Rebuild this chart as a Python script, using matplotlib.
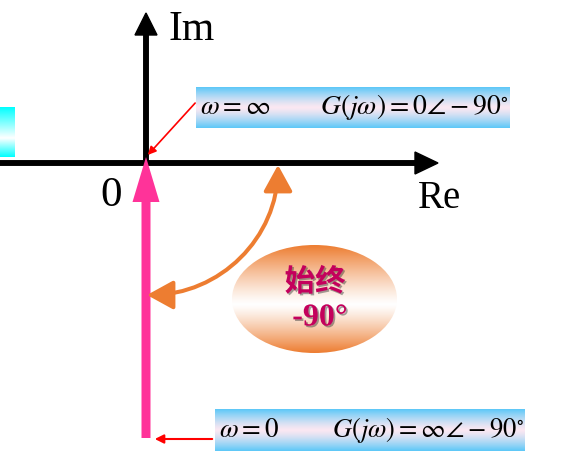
import numpy as np
import matplotlib
matplotlib.use("Agg")
import matplotlib.pyplot as plt
from matplotlib.path import Path
import matplotlib.patches as patches
import matplotlib.patheffects as pe

plt.rcParams['mathtext.fontset'] = 'stix'

# text content
axis_labels = ["Im", "Re", "0"]
top_labels = [r"$\omega=\infty$", r"$G(j\omega)=0\angle-90^{\circ}$"]
bottom_labels = [r"$\omega=0$", r"$G(j\omega)=\infty\angle-90^{\circ}$"]
badge_lines = ["始终", "-90°"]

# layout in pixel units (y grows downward)
W, H = 570, 469
origin = (146, 163)
arc_radius = 132


def gradient(ax, extent, c_edge, c_mid, mid=0.5, clip=None, power=1.0):
    x0, x1, y0, y1 = extent
    t = np.linspace(0, 1, 200)
    d = np.where(t < mid, (mid - t) / mid, (t - mid) / (1 - mid)) ** power
    c_edge = np.array(matplotlib.colors.to_rgb(c_edge))
    c_mid = np.array(matplotlib.colors.to_rgb(c_mid))
    img = (c_mid[None, :] * (1 - d[:, None]) + c_edge[None, :] * d[:, None])[:, None, :]
    im = ax.imshow(img, extent=(x0, x1, y1, y0), origin='upper', aspect='auto',
                   interpolation='bilinear', zorder=1)
    if clip is not None:
        im.set_clip_path(clip)
    return im


fig = plt.figure(figsize=(W / 100, H / 100), dpi=100)
ax = fig.add_axes([0, 0, 1, 1])
ax.set_xlim(0, W)
ax.set_ylim(H, 0)
ax.axis('off')

# small cyan bar on the left
gradient(ax, (0, 15, 107, 157), '#00FFFF', '#FFFFFF', mid=0.62)

# axes
ax.arrow(0, origin[1], 438, 0, width=4.5, head_width=22, head_length=23,
         length_includes_head=True, color='black', zorder=3)
ax.arrow(origin[0], origin[1] + 2, 0, -(origin[1] + 2 - 13), width=4.5, head_width=22,
         head_length=22, length_includes_head=True, color='black', zorder=3)

ax.text(169, 30, axis_labels[0], fontsize=30, family='Liberation Serif', va='center', ha='left')
ax.text(418, 199, axis_labels[1], fontsize=28, family='Liberation Serif', va='center', ha='left')
ax.text(111, 196, axis_labels[2], fontsize=31, family='Liberation Serif', va='center', ha='center')

# pink locus arrow
ax.arrow(origin[0], 438, 0, 157 - 438, width=9, head_width=27, head_length=45,
         length_includes_head=True, color='#FF3399', ec='none', zorder=4)

# orange quarter-arc double arrow
k = 0.5523 * arc_radius
A = (origin[0] + arc_radius, origin[1] + 2)
B = (origin[0] + 1, origin[1] + arc_radius)
arc = Path([A, (A[0], A[1] + k), (B[0] + k, B[1]), B],
           [Path.MOVETO, Path.CURVE4, Path.CURVE4, Path.CURVE4])
ax.add_patch(patches.FancyArrowPatch(path=arc, arrowstyle='<|-|>,head_length=1.0,head_width=0.55',
                                     mutation_scale=16, color='#ED7D31', lw=2.9, zorder=4))

# label boxes
for (x0, x1, y0, y1), labels, xs, fs in [((196, 510, 87, 128), top_labels, (200, 320), 20),
                                          ((215, 525, 409, 451), bottom_labels, (219, 332), 19.2)]:
    gradient(ax, (x0, x1, y0, y1), '#5CC8F8', '#FBE8F2', mid=0.5, power=1.3)
    yc = (y0 + y1) / 2
    ax.text(xs[0], yc, labels[0], fontsize=19.5, va='center', ha='left', zorder=5)
    ax.text(xs[1], yc, labels[1], fontsize=fs, va='center', ha='left', zorder=5)

# red pointer arrows
ax.annotate('', xy=(146, 157), xytext=(197, 101),
            arrowprops=dict(arrowstyle='-|>', color='red', lw=1.2, mutation_scale=12), zorder=5)
ax.annotate('', xy=(152, 439), xytext=(215, 439),
            arrowprops=dict(arrowstyle='-|>', color='red', lw=1.5, mutation_scale=13), zorder=5)

# orange badge
ell = patches.Ellipse((314.5, 299), 165, 108, facecolor='none', edgecolor='none', zorder=2)
ax.add_patch(ell)
gradient(ax, (232, 397, 245, 353), '#ED7D31', '#FFFFFF', mid=0.55, clip=ell, power=1.2)

shadow = [pe.withSimplePatchShadow(offset=(1.2, -1.2), shadow_rgbFace='#333333', alpha=0.45)]
ax.text(315, 282, badge_lines[0], fontsize=22, family=['Noto Sans CJK SC'], weight='bold',
        color='#C4005C', ha='center', va='center', path_effects=shadow, zorder=6)
ax.text(320, 318, badge_lines[1], fontsize=23, family='Liberation Serif', weight='bold',
        color='#C4005C', ha='center', va='center', path_effects=shadow, zorder=6)

fig.savefig('out.png', dpi=100)
